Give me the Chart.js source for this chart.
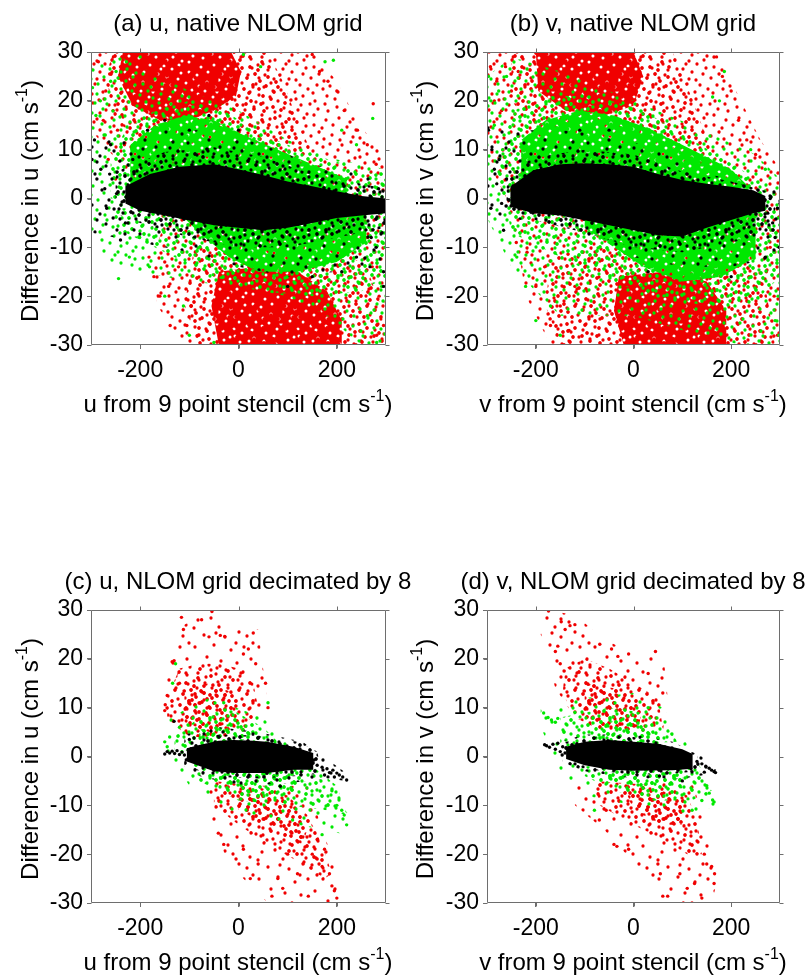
<!DOCTYPE html>
<html><head><meta charset="utf-8">
<script src="https://cdn.jsdelivr.net/npm/chart.js@4.4.1/dist/chart.umd.min.js"></script>
<style>
html,body{margin:0;padding:0;background:#fff;}
body{width:809px;height:979px;position:relative;overflow:hidden;font-family:"Liberation Sans",Arial,Helvetica,sans-serif;color:#000;}
canvas{position:absolute;}
.t{position:absolute;font-size:24px;line-height:24px;white-space:nowrap;text-align:center;width:400px;}
.yl{position:absolute;font-size:24px;line-height:24px;white-space:nowrap;text-align:center;width:320px;transform:rotate(-90deg);}
sup{font-size:16px;line-height:0;vertical-align:baseline;position:relative;top:-11px;}
</style></head><body>
<canvas id="ca" width="400" height="400" style="left:0;top:0"></canvas>
<canvas id="cb" width="400" height="400" style="left:400px;top:0"></canvas>
<canvas id="cc" width="400" height="400" style="left:0;top:558px"></canvas>
<canvas id="cd" width="400" height="400" style="left:400px;top:558px"></canvas>

<div class="t" style="left:38px;top:11px">(a) u, native NLOM grid</div>
<div class="t" style="left:433px;top:11px">(b) v, native NLOM grid</div>
<div class="t" style="left:38px;top:569px">(c) u, NLOM grid decimated by 8</div>
<div class="t" style="left:433px;top:569px">(d) v, NLOM grid decimated by 8</div>

<div class="t" style="left:38px;top:392px">u from 9 point stencil (cm s<sup>-1</sup>)</div>
<div class="t" style="left:433px;top:392px">v from 9 point stencil (cm s<sup>-1</sup>)</div>
<div class="t" style="left:38px;top:950px">u from 9 point stencil (cm s<sup>-1</sup>)</div>
<div class="t" style="left:433px;top:950px">v from 9 point stencil (cm s<sup>-1</sup>)</div>

<div class="yl" style="left:-130px;top:189px">Difference in u (cm s<sup>-1</sup>)</div>
<div class="yl" style="left:265px;top:189px">Difference in v (cm s<sup>-1</sup>)</div>
<div class="yl" style="left:-130px;top:747px">Difference in u (cm s<sup>-1</sup>)</div>
<div class="yl" style="left:265px;top:747px">Difference in v (cm s<sup>-1</sup>)</div>

<script>
// ---------- axes ----------
const X_TICKS = [-200, 0, 200];
const Y_TICKS = [-30, -20, -10, 0, 10, 20, 30];
const X_RANGE = [-300, 300];
const Y_RANGE = [-30, 30];

// ---------- panel (a): u, native grid — cloud outlines (x,y pairs) and outlying points ----------
const A_RED_SPARSE = [[-300,30, 150,30, 200,24, 240,16, 300,8, 300,-30, -110,-30, -165,-22, -175,-12, -150,-5, -200,0, -240,7, -300,14]];
const A_RED_MED = [[-255,30, 60,30, 90,24, 120,16, 150,9, 100,9, 0,10, -100,11, -200,12, -250,16, -270,25],
                   [-90,-10, 0,-9, 100,-9, 200,-10, 260,-14, 290,-22, 300,-30, -80,-30, -110,-22]];
const A_RED_CORE = [[-235,30, -15,30, 5,26, -5,21, -50,18, -100,16, -160,16, -215,19, -245,25],
                    [-40,-15, 40,-14, 120,-15, 180,-19, 210,-25, 210,-30, -40,-30, -55,-22]];
const A_GREEN_SPARSE = [[-300,27, -240,29, -180,26, -100,22, 0,18, 100,12, 200,8, 300,6, 300,-30, 250,-30, 180,-24, 100,-20, 0,-18, -100,-17, -200,-15, -270,-13, -300,-6]];
const A_GREEN_MED = [[-260,8, -230,14, -170,18, -100,20, -30,18, 50,13, 150,9, 250,6, 300,4, 300,0, -260,0],
                     [-250,-2, 300,-2, 300,-16, 250,-19, 150,-20, 50,-19, -50,-16, -150,-11, -250,-6]];
const A_GREEN_CORE = [[-220,11, -170,15, -110,17, -50,16, 10,13, 80,10, 150,7, 220,4, 220,1, -220,1],
                      [-120,-3, 260,-3, 260,-9, 200,-13, 120,-15, 40,-15, -20,-12, -80,-7]];
const A_BLACK_SPARSE = [[-300,12, -230,12, -150,14, -50,14, 50,11, 150,7, 300,4, 300,-14, 200,-15, 100,-16, 0,-14, -100,-11, -200,-9, -300,-7]];
const A_BLACK_MED = [[-250,5.5, -150,9.5, -50,10.5, 50,8.5, 150,5, 250,3, 300,2, 300,-6, 200,-8, 100,-10, 0,-10, -100,-8, -200,-5, -250,-3]];
const A_BLACK_CORE = [[-230,2.5, -180,5, -120,6.5, -50,7, 0,6, 50,4.8, 100,3.5, 150,2.5, 200,1.5, 250,0.5, 300,0, 300,-3, 250,-3.5, 200,-4, 150,-5, 100,-6, 50,-6.5, 0,-6, -50,-5.5, -100,-4.5, -150,-3.5, -200,-2.5, -230,-1]];
const A_RED_PTS = [-285,28, -270,22, -262,25.5, -255,18, -246,14, -240,27, -232,11, -275,16, 150,29.5, 165,26, 182,24, 200,22, 215,18, 242,14, 262,11, 280,7, 274,19.4,
  -182,-12, -172,-16, -160,-20, -142,-18, -139,-26, -105,-26, -96,-22, -122,-14, -150,-13, -82,-28, 262,-8, 272,-14, 286,-20, 295,-26, 281,-28, -265,8, -250,4];
const A_GREEN_PTS = [-297,22.7, -290,17, -281,20, -271,13, -260,24, -249,26, -228,28, -200,29, 10,29.5, 45,27, 176,28, 193,28.3, 273,16.4, -244,-16.4, -222,-12,
  -201,-8, -181,-14, -150,-20, -112,-22, -100,-28, -50,-29.5, 262,-24, 281,-29.5, 291,-18, 298,-10, 290,5, 240,11, 210,14];
const A_BLACK_PTS = [-298,8, -293,12, -288,4, -280,6, -272,2, -268,-2, -262,5, -255,-4, -248,1, -240,-8.5, -260,11, -185,14, -150,16, -100,14, -60,17, 0,14,
  280,-10, 295,-15, 295,-18, 270,-8, 240,-12, 210,-15, 150,-16, 100,-18, 292,-7, 285,2, -230,-5, -215,8];

// ---------- panel (b): v, native grid ----------
const B_RED_SPARSE = [[-300,30, 170,30, 220,20, 260,12, 300,6, 300,-30, -170,-30, -220,-20, -240,-8, -260,0, -300,8]];
const B_RED_MED = [[-250,30, 80,30, 110,23, 140,15, 160,9, 100,10, 0,12, -100,13, -200,14, -250,20],
                   [-170,-12, -60,-10, 50,-11, 150,-12, 220,-12, 270,-18, 290,-30, -150,-30, -180,-22]];
const B_RED_CORE = [[-200,30, 0,30, 20,25, 0,19, -60,17, -140,18, -195,22],
                    [-30,-16, 60,-15, 150,-17, 190,-23, 190,-30, -20,-30, -40,-23]];
const B_GREEN_SPARSE = [[-300,25, -250,29, -150,26, 0,20, 120,15, 250,9, 300,4, 300,-30, 220,-30, 100,-27, 0,-24, -150,-24, -250,-14, -300,-4]];
const B_GREEN_MED = [[-280,8, -245,18, -170,21, -80,21, 20,18, 120,12, 220,6, 290,1, -280,0],
                     [-260,-2, 300,-2, 300,-16, 250,-21, 150,-22, 50,-20, -50,-17, -150,-12, -250,-7]];
const B_GREEN_CORE = [[-230,12, -180,16, -110,18, -40,17, 40,14, 120,10, 200,6, 240,2, -230,2],
                      [-100,-3, 250,-3, 250,-12, 180,-16, 100,-17, 20,-14, -40,-10, -100,-6]];
const B_BLACK_SPARSE = [[-300,15, -250,14, -150,14, -50,13, 50,10, 150,5, 300,2, 300,-12, 200,-14, 100,-14, 0,-12, -100,-8, -200,-5, -300,-3]];
const B_BLACK_MED = [[-260,5.5, -200,8.5, -100,10, 0,9, 100,5.5, 200,3.5, 290,1, 290,-7, 200,-9, 100,-11, 0,-10, -100,-7, -200,-4.5, -260,-2]];
const B_BLACK_CORE = [[-252,2.4, -205,5.8, -150,7, -103,7.2, -50,7, 0,6.5, 50,5, 100,3.8, 150,3, 200,2.4, 245,1.7, 270,0.5, 270,-2.5, 245,-3, 200,-4.4, 150,-6, 100,-7.8, 50,-7.5, 0,-6.5, -50,-5.5, -103,-4.4, -150,-3.5, -205,-3, -252,-1.7]];
const B_RED_PTS = [-293,27, -280,24, -270,18, -262,27, -250,22, -236,26, -285,20, 170,29, 182,25, 200,22, 215,16, 232,12, 250,9, -218,-11, -200,-18, -182,-14,
  -170,-26, -150,-22, -132,-27, -120,-18, 272,-15, 288,-20, 295,-28, 280,-10, -240,-9];
const B_GREEN_PTS = [-297,25, -292,20, -285,15, -276,22, -268,10, -260,25, -239,-12, -221,-18, -200,-25, -170,-22, -150,-28, 162,20.8, 176,20, 186,26, 290,-25,
  296,-20, 298,-28, 240,10, 270,6];
const B_BLACK_PTS = [-297,14, -290,10, -285,6, -280,3, -275,8, -270,-1, -266,-6.5, -260,4, -292,-2, 275,-3, 285,-5, 290,-8, 295,-2, 298,-10, 270,-12, 200,-16,
  30,-15, -110,14, -50,14, 280,0, 300,-1];

// ---------- panel (c): u, decimated by 8 ----------
const C_RED_SPARSE = [[-150,15, -135,20, -110,27, -60,30, -30,27, 40,26, 50,18, 60,10, 40,5, -20,4, -100,4, -150,8],
                      [-60,-6, 140,-6, 205,-25, 205,-30, 60,-30, -20,-22, -60,-12]];
const C_RED_MED = [[-145,12, -120,18, -80,19, -40,19, 0,18, 30,15, 40,10, 20,6, -40,4, -100,4, -145,8],
                   [-50,-5, 30,-6, 100,-8, 140,-12, 170,-18, 190,-24, 175,-25, 130,-22, 60,-18, 0,-14, -50,-10]];
const C_RED_CORE = [[-110,14, -60,15, -10,13, 0,8, -60,5, -110,7],
                    [0,-7, 60,-8, 110,-10, 140,-15, 130,-18, 60,-14, 0,-11]];
const C_GREEN_SPARSE = [[-140,8, -60,12, 50,8, 150,-3, 225,-12, 220,-16, 120,-14, 0,-12, -100,-6, -150,2]];
const C_GREEN_MED = [[-130,4, -80,8, -20,10, 50,6, 90,2, -130,1],
                     [-100,-1, 150,-2, 200,-6, 220,-12, 180,-11, 100,-10, 0,-9, -80,-5]];
const C_GREEN_CORE = [[-80,5.5, 0,7, 50,4, -80,2],
                      [-40,-3, 120,-3, 120,-7, 40,-8, -40,-6]];
const C_BLACK_SPARSE = [[-110,4.5, -40,6, 40,5, 130,3, 180,-0.5, 220,-3.5, 220,-5, 180,-4.5, 100,-5.5, 0,-6, -80,-4, -110,-2]];
const C_BLACK_MED = [[-110,3, -40,4.5, 40,4.3, 120,3, 160,1, 170,-3.5, 120,-4, 40,-4.5, -40,-4.2, -110,-2]];
const C_BLACK_CORE = [[-105,1.7, -78,2.4, -40,3.2, -10,3.4, 30,3.2, 58,3, 112,2, 152,0.7, 152,-2.7, 112,-2.7, 58,-3.4, -10,-3.4, -50,-3, -78,-2, -105,-1]];
const C_RED_PTS = [-116,28.5, -112,26, -75,28, -54,29.7, -60,24.5, -37,24.8, -28,24.6, 30,25.3, 20,22, 10,21, -135,19.4, -131,19.6, -145,12.5, -149,10.6, -150,9.4,
  -120,15, 35,19, 55,15, 60,10, -41,-15.7, -30,-18, -5,-21, 10,-19, 24,-25, 40,-22, 68,-28.6, 80,-25, 142,-28.6, 150,-20, 160,-21, 170,-22.5, 185,-24, 190,-26.5,
  195,-27.5, 200,-29, 175,-19, 160,-17, 120,-24, 100,-20, 90,-27];
const C_GREEN_PTS = [-134,15, -128,19, -140,4, -150,3, -145,2, -120,6, 200,-10, 210,-11, 215,-12, 220,-14, 190,-7, 170,-16, 60,11, -30,11, 110,-13];
const C_BLACK_PTS = [-150,0.5, -145,1, -140,0.7, -135,1.1, -130,0.6, -125,1.2, -120,0.4, -115,0.9, -110,0.3, -131,7.2, 160,-1.8, 170,-2.2, 180,-2.5, 185,-3.3,
  192,-2.8, 200,-3.4, 205,-3.8, 212,-4.2, 220,-4.8, 175,-3.8, 195,-4.2, 85,-6.1, -100,3.5];

// ---------- panel (d): v, decimated by 8 ----------
const D_RED_SPARSE = [[-190,25, -180,30, -120,29, -60,24, 0,21, 60,22, 70,12, 60,5, -100,5, -160,14],
                      [-120,-5, 120,-5, 150,-15, 170,-26, 160,-30, 80,-30, 30,-25, -60,-15, -120,-10]];
const D_RED_MED = [[-145,13, -140,18, -100,20, -50,18, 0,15, 50,12, 60,6, -60,5, -120,8],
                   [-80,-5, 60,-6, 110,-8, 130,-13, 140,-20, 110,-20, 60,-17, 0,-14, -70,-10]];
const D_RED_CORE = [[-100,15, -40,14, 20,10, 10,6, -60,6, -100,9],
                    [-20,-6, 60,-7, 100,-9, 110,-14, 60,-14, 0,-11]];
const D_GREEN_SPARSE = [[-190,10, -100,12, 0,13, 60,10, 90,6, 170,-8, 170,-10, 120,-12, 0,-10, -100,-8, -150,-3, -190,6]];
const D_GREEN_MED = [[-150,8, -50,10, 20,9, 70,6, 90,3, -150,2],
                     [-100,-2, 130,-2, 160,-7, 120,-9, 40,-9, -40,-7, -100,-4]];
const D_GREEN_CORE = [[-80,7, 0,7.5, 50,4.5, 60,2, -80,2],
                      [-60,-3, 100,-3, 100,-6.5, 20,-7, -60,-5]];
const D_BLACK_SPARSE = [[-150,3, -100,4.5, 0,4.5, 80,3, 140,0, 170,-2.5, 165,-3.5, 100,-4.5, 0,-4.5, -100,-3, -150,-1]];
const D_BLACK_MED = [[-145,2.8, -100,4, 0,4, 80,2.5, 130,0.5, 135,-3, 80,-3.5, 0,-3.8, -100,-2.5, -145,-1]];
const D_BLACK_CORE = [[-138,2, -100,3, -50,3.4, 0,3, 50,2.6, 100,1.5, 121,0.5, 121,-2.5, 80,-2.8, 0,-2.9, -50,-2.7, -100,-1.8, -138,-0.5]];
const D_RED_PTS = [-174,29.8, -148,27.6, -140,26, -130,26.8, -120,27, -155,22.6, -160,21.5, -150,19, -69,23, -32,20.5, -45,22, -10,21, 45,21.5, 30,17, 60,13,
  -10,-19, -40,-18, -70,-13, -56,-11, -34,-18.4, 50,-22, 55,-24, 60,-28.6, 70,-28.6, 95,-24, 102,-30, 110,-27, 125,-26, 140,-29, 145,-20, 150,-22, 160,-22.5,
  165,-26, 166,-24];
const D_GREEN_PTS = [-184,8.9, -175,8, -168,7.5, -160,7, -155,7.8, 150,-6, 155,-7.5, 162,-8.9, 165,-9.3, 140,-9, 120,-11, -80,-11, 30,10, -120,9];
const D_BLACK_PTS = [-182,2.4, -178,2.2, -172,1.9, -165,2.5, -160,1.5, -155,2.7, -150,1, -145,2, 130,-1, 140,-1.5, 148,-2, 155,-2.4, 160,-2.8, 165,-3.1,
  168,-3.3, 145,-3.2, 100,-5, 53,-4];

// ---------- style: marker texture tiles (appearance only, not data) ----------
const RED = 'rgb(240,0,0)', GREEN = 'rgb(0,232,0)', BLACK = '#000';
const AXIS_COLOR = '#6e6e6e';
const FONT = '"Liberation Sans", Arial, Helvetica, sans-serif';
const TILE_W = 64, TILE_H = 58;
const TEX_S = [[6,4],[19,2],[27,11],[41,6],[58,9],[12,19],[33,21],[47,16],[61,27],[3,31],[22,29],[39,34],[52,31],[15,41],[29,45],[45,47],[59,43],[8,53],[36,55],[51,56],[24,17],[55,20],[33,3],[2,12],[44,27]];
const TEX_M = TEX_S.concat([[13,9],[48,2],[36,14],[20,24],[7,38],[28,36],[57,35],[40,41],[17,49],[62,51],[31,26],[50,10],[4,23],[42,52],[25,52],[54,46],[10,28],[63,16],[35,42],[47,38],[18,34],[58,57],[30,6],[5,46],[40,22]]);
// texture levels: dot layers [dots, dx, dy]; 'holes' = solid colour with gaps
const LV1 = {layers: [[TEX_S, 0, 0]]};
const LV2 = {layers: [[TEX_M, 0, 0]]};
const LV3 = {layers: [[TEX_M, 0, 0], [TEX_M, 31, 23]]};
const LV3X = {layers: [[TEX_M, 0, 0], [TEX_M, 31, 23], [TEX_M, 17, 41]]};
const LV4 = {holes: true, layers: [[TEX_M, 3, 5]]};

function makePattern(ctx, color, level, ox, oy) {
  const c = document.createElement('canvas');
  c.width = TILE_W; c.height = TILE_H;
  const g = c.getContext('2d');
  g.fillStyle = color;
  if (level.holes) { g.fillRect(0, 0, TILE_W, TILE_H); g.globalCompositeOperation = 'destination-out'; g.fillStyle = '#000'; }
  for (const [dots, lx, ly] of level.layers) {
    for (const [x0, y0] of dots) {
      const x = (x0 + lx + ox) % TILE_W, y = (y0 + ly + oy) % TILE_H;
      for (const dx of [-TILE_W, 0, TILE_W]) for (const dy of [-TILE_H, 0, TILE_H]) {
        g.beginPath(); g.arc(x + dx, y + dy, level.holes ? 1.5 : 1.65, 0, Math.PI * 2); g.fill();
      }
    }
  }
  return ctx.createPattern(c, 'repeat');
}

function toPts(flat) { const out = []; for (let i = 0; i < flat.length; i += 2) out.push({x: flat[i], y: flat[i + 1]}); return out; }

const framePlugin = {
  id: 'frame',
  afterDatasetsDraw(chart) {
    const {ctx, chartArea: a, scales} = chart;
    ctx.save();
    ctx.strokeStyle = AXIS_COLOR; ctx.lineWidth = 1;
    const l = Math.round(a.left) + 0.5, t = Math.round(a.top) + 0.5, r = Math.round(a.right) - 0.5, b = Math.round(a.bottom) - 0.5;
    ctx.beginPath();
    ctx.rect(l, t, r - l, b - t);
    for (const v of X_TICKS) { const px = Math.round(scales.x.getPixelForValue(v)) + 0.5; ctx.moveTo(px, t); ctx.lineTo(px, t - 4); ctx.moveTo(px, b); ctx.lineTo(px, b + 4); }
    for (const v of Y_TICKS) { const py = Math.round(scales.y.getPixelForValue(v)) + 0.5; ctx.moveTo(r, py); ctx.lineTo(r + 4, py); ctx.moveTo(l, py); ctx.lineTo(l - 4, py); }
    ctx.stroke();
    ctx.restore();
  }
};

function buildPanel(p) {
  const canvas = document.getElementById(p.id);
  const ctx = canvas.getContext('2d');
  const datasets = [];
  const poly = (rings, fillStyle, order) => {
    for (const r of rings) datasets.push({
      type: 'line', data: toPts(r), fill: 'shape', backgroundColor: fillStyle,
      borderColor: 'rgba(0,0,0,0)', borderWidth: 0, pointRadius: 0, pointHoverRadius: 0,
      tension: 0, showLine: true, order
    });
  };
  const points = (flat, color, order) => datasets.push({
    type: 'scatter', data: toPts(flat), pointRadius: 1.7, pointHoverRadius: 1.7, pointStyle: 'circle',
    backgroundColor: color, borderColor: color, borderWidth: 0, showLine: false, order
  });
  const [l1, l2, l3] = p.levels;
  poly(p.redSparse, makePattern(ctx, RED, l1, 0, 0), 30);
  poly(p.redMed, makePattern(ctx, RED, l2, 0, 0), 29);
  poly(p.redCore, makePattern(ctx, RED, l3, 0, 0), 28);
  points(p.redPts, RED, 27);
  poly(p.greenSparse, makePattern(ctx, GREEN, l1, 21, 17), 20);
  poly(p.greenMed, makePattern(ctx, GREEN, l2, 21, 17), 19);
  poly(p.greenCore, makePattern(ctx, GREEN, l3, 21, 17), 18);
  points(p.greenPts, GREEN, 17);
  poly(p.blackSparse, makePattern(ctx, BLACK, p.blackLevels[0], 9, 29), 10);
  poly(p.blackMed, makePattern(ctx, BLACK, p.blackLevels[1], 9, 29), 9);
  poly(p.blackCore, BLACK, 8);
  points(p.blackPts, BLACK, 7);

  new Chart(ctx, {
    type: 'scatter',
    data: {datasets},
    options: {
      responsive: false, animation: false, events: [],
      layout: {padding: {left: 0, top: 52, right: p.padR, bottom: 0}},
      plugins: {legend: {display: false}, tooltip: {enabled: false}, title: {display: false}},
      scales: {
        x: {
          type: 'linear', min: X_RANGE[0], max: X_RANGE[1],
          afterBuildTicks: s => { s.ticks = X_TICKS.map(v => ({value: v})); },
          afterFit: s => { s.height = 55; },
          ticks: {color: '#000', font: {family: FONT, size: 23}, padding: 8, maxRotation: 0, autoSkip: false, callback: v => String(v)},
          grid: {display: true, drawOnChartArea: false, drawTicks: true, tickLength: 4, color: AXIS_COLOR},
          border: {display: false}
        },
        y: {
          type: 'linear', min: Y_RANGE[0], max: Y_RANGE[1],
          afterBuildTicks: s => { s.ticks = Y_TICKS.map(v => ({value: v})); },
          afterFit: s => { s.width = p.yW; },
          ticks: {color: '#000', font: {family: FONT, size: 23}, padding: 4, autoSkip: false, callback: v => String(v)},
          grid: {display: true, drawOnChartArea: false, drawTicks: true, tickLength: 4, color: AXIS_COLOR},
          border: {display: false}
        }
      }
    },
    plugins: [framePlugin]
  });
}

const NATIVE_LEVELS = [LV2, LV3, LV4], DECIM_LEVELS = [LV1, LV3, LV3X];
buildPanel({id: 'ca', yW: 91, padR: 14, levels: NATIVE_LEVELS, blackLevels: [LV1, LV3],
  redSparse: A_RED_SPARSE, redMed: A_RED_MED, redCore: A_RED_CORE, redPts: A_RED_PTS,
  greenSparse: A_GREEN_SPARSE, greenMed: A_GREEN_MED, greenCore: A_GREEN_CORE, greenPts: A_GREEN_PTS,
  blackSparse: A_BLACK_SPARSE, blackMed: A_BLACK_MED, blackCore: A_BLACK_CORE, blackPts: A_BLACK_PTS});
buildPanel({id: 'cb', yW: 87, padR: 20, levels: NATIVE_LEVELS, blackLevels: [LV1, LV3],
  redSparse: B_RED_SPARSE, redMed: B_RED_MED, redCore: B_RED_CORE, redPts: B_RED_PTS,
  greenSparse: B_GREEN_SPARSE, greenMed: B_GREEN_MED, greenCore: B_GREEN_CORE, greenPts: B_GREEN_PTS,
  blackSparse: B_BLACK_SPARSE, blackMed: B_BLACK_MED, blackCore: B_BLACK_CORE, blackPts: B_BLACK_PTS});
buildPanel({id: 'cc', yW: 91, padR: 14, levels: DECIM_LEVELS, blackLevels: [LV2, LV3],
  redSparse: C_RED_SPARSE, redMed: C_RED_MED, redCore: C_RED_CORE, redPts: C_RED_PTS,
  greenSparse: C_GREEN_SPARSE, greenMed: C_GREEN_MED, greenCore: C_GREEN_CORE, greenPts: C_GREEN_PTS,
  blackSparse: C_BLACK_SPARSE, blackMed: C_BLACK_MED, blackCore: C_BLACK_CORE, blackPts: C_BLACK_PTS});
buildPanel({id: 'cd', yW: 87, padR: 20, levels: DECIM_LEVELS, blackLevels: [LV2, LV3],
  redSparse: D_RED_SPARSE, redMed: D_RED_MED, redCore: D_RED_CORE, redPts: D_RED_PTS,
  greenSparse: D_GREEN_SPARSE, greenMed: D_GREEN_MED, greenCore: D_GREEN_CORE, greenPts: D_GREEN_PTS,
  blackSparse: D_BLACK_SPARSE, blackMed: D_BLACK_MED, blackCore: D_BLACK_CORE, blackPts: D_BLACK_PTS});
</script>
</body></html>
